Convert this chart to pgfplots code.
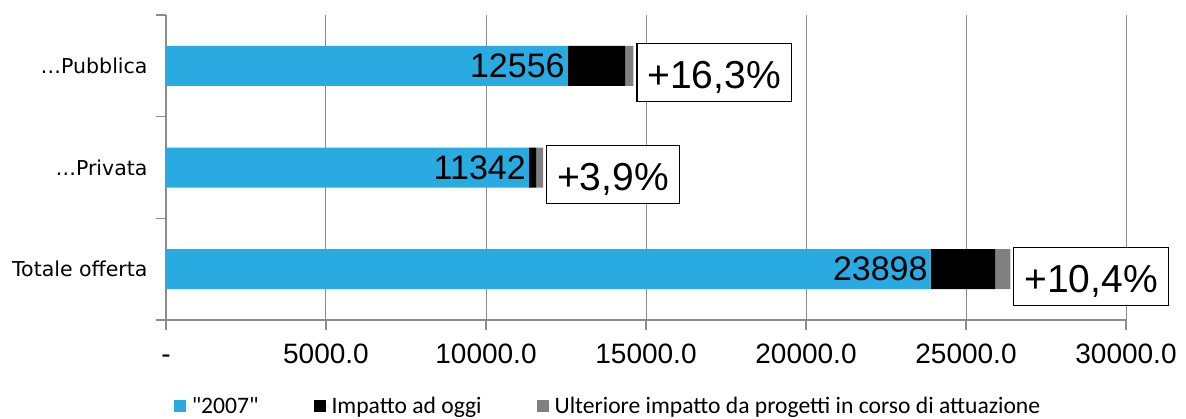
\documentclass[border=0pt]{standalone}
\usepackage{fontspec}
\setmainfont{Liberation Sans}
\newfontfamily\catfont{DejaVu Sans}
\newfontfamily\legfont{Carlito}
\usepackage{pgfplots}
\pgfplotsset{compat=1.18}
\definecolor{cblue}{HTML}{29ABE2}
\definecolor{cgray}{HTML}{808080}
\definecolor{axgray}{HTML}{8C8C8C}
\pgfplotsset{sqlegend/.style={legend image code/.code={\fill[##1] (0pt,-6pt) rectangle (12.5pt,6.5pt);\path (0pt,0pt) -- (16pt,0pt);}}}
\begin{document}
\begin{tikzpicture}
\begin{axis}[
  scale only axis, width=960pt, height=305pt,
  xbar stacked, bar width=40pt,
  xmin=0, xmax=30000, ymin=-0.5, ymax=2.5,
  clip=false,
  scaled x ticks=false,
  axis lines*=left,
  axis line style={axgray, line width=1.2pt, -},
  tick style={axgray, line width=1.2pt},
  tick align=outside,
  major tick length=10pt,
  xtick={0,5000,10000,15000,20000,25000,30000},
  xticklabels={-,5000.0,10000.0,15000.0,20000.0,25000.0,30000.0},
  xticklabel style={font=\fontsize{28}{30}\selectfont, text height=20pt, yshift=-10pt},
  xmajorgrids, grid style={axgray, line width=1pt},
  ytick={-0.5,0.5,1.5,2.5},
  yticklabels={Totale offerta,…Privata,…Pubblica,{}},
  yticklabel style={font=\catfont\fontsize{20.5}{22}\selectfont, yshift=50.83pt, xshift=-5pt},
  legend style={at={(0.4604,-0.282)}, anchor=center, draw=none, fill=none,
    legend columns=3, font=\legfont\fontsize{23.6}{25}\selectfont,
    /tikz/every even column/.append style={column sep=53pt},
    legend cell align=left},
]
\addplot[fill=cblue, draw=none, sqlegend]
  coordinates {(23898,0) (11342,1) (12556,2)};
\addplot[fill=black, draw=none, sqlegend]
  coordinates {(2015,0) (230,1) (1790,2)};
\addplot[fill=cgray, draw=none, sqlegend]
  coordinates {(470,0) (212,1) (257,2)};
\legend{{"2007"},{Impatto ad oggi},{Ulteriore impatto da progetti in corso di attuazione}}
\end{axis}
\begin{axis}[
  scale only axis, width=960pt, height=305pt,
  xmin=0, xmax=30000, ymin=-0.5, ymax=2.5,
  hide axis, clip=false,
]
\addplot[draw=none, mark=none, point meta=explicit symbolic, nodes near coords,
  nodes near coords style={anchor=east, font=\fontsize{34}{36}\selectfont, text=black, inner sep=3pt}]
  coordinates {(23898,0) [23898] (11342,1) [11342] (12556,2) [12556]};
\addplot[draw=none, mark=none, point meta=explicit symbolic, nodes near coords,
  nodes near coords style={anchor=west, draw=black, line width=1.2pt, fill=white,
    font=\fontsize{39}{41}\selectfont, text=black, inner xsep=10.5pt, inner ysep=0pt,
    text height=45pt, text depth=13pt, xshift=3pt, yshift=-7pt}]
  coordinates {(26383,0) [{+10,4\%}] (11784,1) [{+3,9\%}] (14603,2) [{+16,3\%}]};
\end{axis}
\pgfresetboundingbox
\path[use as bounding box] ([shift={(-166pt,-98pt)}]current axis.south west) rectangle ++(1186pt,418pt);
\end{tikzpicture}
\end{document}
